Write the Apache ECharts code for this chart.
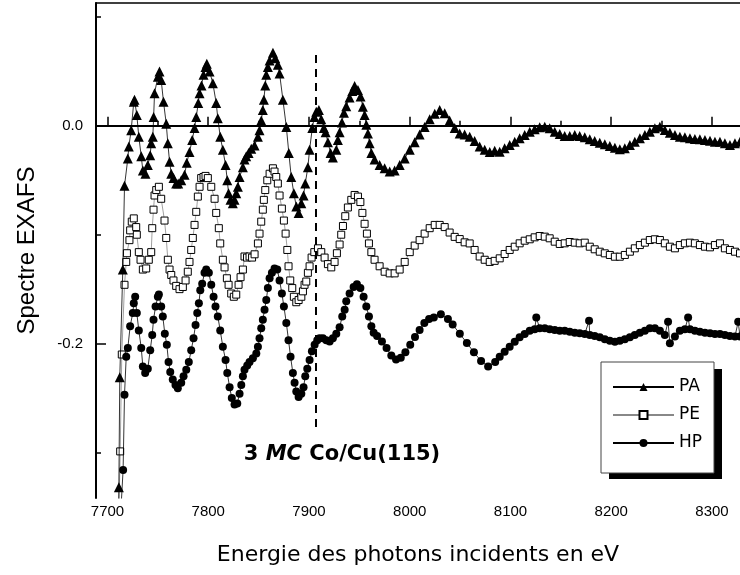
<!DOCTYPE html>
<html><head><meta charset="utf-8">
<script src="https://cdn.jsdelivr.net/npm/echarts@6/dist/echarts.min.js"></script>
<style>html,body{margin:0;padding:0;background:#fff}#c{width:740px;height:575px}</style>
</head><body><div id="c"></div>
<script>
// ---- data (energy eV, EXAFS value) ----
const PA = [
[7710.5,-0.39],[7711.3,-0.332],[7712.2,-0.231],[7715.2,-0.132],[7716.9,-0.055],[7720.2,-0.030],[7721.2,-0.019],[7723.5,-0.004],
[7726.1,0.022],[7726.8,0.024],[7729.1,0.010],[7731.1,-0.010],[7733.5,-0.028],[7735.1,-0.041],[7737.7,-0.044],[7740.0,-0.036],
[7742.4,-0.027],[7743.4,-0.016],[7745.0,-0.010],[7745.8,0.008],[7746.7,0.030],[7750.0,0.045],[7751.6,0.050],[7753.3,0.042],
[7755.6,0.022],[7758.3,0.002],[7759.9,-0.016],[7761.6,-0.033],[7763.3,-0.044],[7765.5,-0.048],[7768.2,-0.053],[7770.2,-0.053],
[7773.2,-0.050],[7776.5,-0.045],[7778.7,-0.034],[7781.4,-0.024],[7784.1,-0.013],[7786.4,-0.002],[7788.1,0.008],[7790.1,0.021],
[7791.4,0.030],[7793.3,0.037],[7795.3,0.047],[7797.3,0.054],[7798.6,0.057],[7801.3,0.050],[7804.6,0.039],[7807.9,0.021],
[7809.5,0.007],[7811.9,-0.010],[7814.5,-0.022],[7817.2,-0.036],[7818.9,-0.050],[7820.2,-0.062],[7822.1,-0.068],[7824.4,-0.071],
[7826.1,-0.068],[7827.8,-0.062],[7829.4,-0.056],[7831.1,-0.047],[7834.4,-0.038],[7836.0,-0.031],[7837.7,-0.028],[7840.0,-0.025],
[7842.7,-0.021],[7846.0,-0.018],[7849.3,-0.010],[7850.9,-0.004],[7852.6,0.005],[7854.2,0.0145],[7855.2,0.024],[7856.6,0.037],
[7857.6,0.047],[7859.2,0.054],[7860.9,0.060],[7864.2,0.067],[7866.5,0.062],[7869.1,0.056],[7870.8,0.048],[7874.1,0.024],
[7877.5,-0.001],[7880.0,-0.025],[7882.4,-0.047],[7885.0,-0.062],[7887.4,-0.074],[7889.7,-0.080],[7892.4,-0.071],[7894.6,-0.064],
[7896.3,-0.053],[7898.9,-0.038],[7900.6,-0.022],[7903.3,-0.002],[7905.3,0.008],[7907.2,0.013],[7909.8,0.0145],[7912.2,0.006],
[7914.8,-0.002],[7916.5,-0.006],[7918.8,-0.015],[7921.4,-0.025],[7923.7,-0.029],[7927.1,-0.022],[7928.7,-0.013],[7930.4,-0.006],
[7932.7,0.003],[7934.7,0.012],[7937.0,0.018],[7940.3,0.026],[7943.0,0.032],[7945.3,0.0365],[7948.6,0.033],[7951.2,0.027],
[7953.5,0.0175],[7955.2,0.010],[7956.9,0.001],[7958.5,-0.007],[7960.2,-0.016],[7961.9,-0.025],[7965.1,-0.031],[7970.1,-0.036],
[7975.1,-0.039],[7980.1,-0.042],[7985.0,-0.041],[7990.0,-0.036],[7995.0,-0.030],[8000.0,-0.022],[8004.9,-0.015],[8009.8,-0.008],
[8014.8,-0.001],[8019.8,0.006],[8024.8,0.011],[8029.7,0.0145],[8034.7,0.0115],[8039.6,0.005],[8044.6,-0.002],[8049.6,-0.007],
[8054.5,-0.008],[8059.5,-0.010],[8064.4,-0.014],[8069.4,-0.019],[8074.4,-0.022],[8079.4,-0.024],[8084.3,-0.023],
[8089.3,-0.0238],[8094.2,-0.0207],[8099.2,-0.0176],[8104.2,-0.0146],[8109.1,-0.0115],[8114.1,-0.0084],[8119.1,-0.0054],
[8124.0,-0.0032],[8129.0,-0.0014],[8134.0,-0.0008],[8138.9,-0.0023],[8143.9,-0.0054],[8148.9,-0.0075],[8153.8,-0.0094],
[8158.8,-0.0094],[8163.8,-0.0084],[8168.7,-0.0094],[8173.7,-0.0106],[8178.7,-0.0124],[8183.6,-0.0140],[8188.6,-0.0155],
[8193.6,-0.0170],[8198.6,-0.0185],[8203.6,-0.0201],[8208.5,-0.0216],[8213.5,-0.0207],[8218.5,-0.0176],[8223.4,-0.0146],
[8228.4,-0.0115],[8233.4,-0.0084],[8238.3,-0.0054],[8243.3,-0.0023],[8248.3,-0.0008],[8253.2,-0.0039],[8258.2,-0.0063],
[8263.2,-0.0084],[8268.1,-0.0100],[8273.1,-0.0106],[8278.1,-0.0115],[8283.0,-0.0121],[8288.0,-0.0124],[8293.0,-0.0130],
[8298.0,-0.0137],[8302.9,-0.0146],[8307.9,-0.0146],[8312.8,-0.0161],[8317.8,-0.0176],[8322.8,-0.0161],[8327.8,-0.0146]
];
const PE = [
[7710.5,-0.39],[7712.6,-0.299],[7714.2,-0.210],[7716.9,-0.146],[7718.6,-0.125],[7719.3,-0.117],[7721.8,-0.105],[7722.5,-0.096],
[7724.1,-0.088],[7726.1,-0.085],[7728.5,-0.093],[7729.1,-0.100],[7731.1,-0.116],[7732.8,-0.123],[7735.1,-0.132],[7738.4,-0.131],
[7741.0,-0.123],[7743.4,-0.116],[7744.4,-0.094],[7745.7,-0.077],[7746.7,-0.064],[7748.4,-0.059],[7751.0,-0.056],[7753.3,-0.067],
[7756.6,-0.087],[7758.3,-0.103],[7759.9,-0.123],[7761.6,-0.132],[7763.3,-0.137],[7765.5,-0.142],[7768.2,-0.147],[7771.5,-0.150],
[7774.8,-0.148],[7777.5,-0.142],[7779.7,-0.134],[7781.4,-0.125],[7783.1,-0.114],[7784.7,-0.103],[7786.4,-0.091],[7788.1,-0.079],
[7789.7,-0.065],[7791.4,-0.056],[7793.0,-0.048],[7795.3,-0.047],[7797.3,-0.046],[7799.6,-0.048],[7803.0,-0.056],[7806.3,-0.067],
[7807.9,-0.080],[7810.5,-0.094],[7811.9,-0.108],[7814.5,-0.123],[7816.2,-0.130],[7818.5,-0.140],[7820.2,-0.146],[7822.8,-0.154],
[7825.4,-0.157],[7827.8,-0.155],[7830.1,-0.146],[7832.1,-0.139],[7834.4,-0.132],[7836.0,-0.120],[7838.5,-0.121],[7841.0,-0.120],
[7843.5,-0.121],[7846.0,-0.118],[7849.3,-0.108],[7850.9,-0.099],[7852.6,-0.088],[7854.2,-0.077],[7855.2,-0.068],[7856.6,-0.059],
[7858.6,-0.050],[7860.9,-0.044],[7864.2,-0.039],[7865.8,-0.042],[7867.5,-0.047],[7869.1,-0.053],[7870.8,-0.064],[7873.1,-0.076],
[7875.1,-0.087],[7876.8,-0.099],[7878.5,-0.114],[7879.7,-0.129],[7881.4,-0.142],[7883.4,-0.149],[7885.0,-0.157],[7887.4,-0.162],
[7889.7,-0.160],[7892.4,-0.157],[7894.0,-0.152],[7895.6,-0.146],[7897.3,-0.143],[7898.9,-0.135],[7900.6,-0.129],[7902.6,-0.121],
[7905.3,-0.116],[7908.9,-0.1125],[7912.2,-0.116],[7915.5,-0.121],[7918.8,-0.127],[7922.1,-0.130],[7925.4,-0.125],[7927.7,-0.117],
[7930.4,-0.109],[7932.0,-0.100],[7933.7,-0.092],[7936.0,-0.083],[7938.6,-0.075],[7942.0,-0.068],[7945.3,-0.0635],[7948.6,-0.065],
[7951.0,-0.070],[7953.0,-0.080],[7955.2,-0.090],[7957.5,-0.099],[7959.5,-0.108],[7961.9,-0.116],[7965.1,-0.123],[7970.1,-0.129],
[7975.1,-0.134],[7980.1,-0.1355],[7985.0,-0.1355],[7990.0,-0.132],[7995.0,-0.125],[8000.0,-0.116],[8004.9,-0.110],[8009.8,-0.105],
[8014.8,-0.099],[8019.8,-0.094],[8024.8,-0.091],[8029.7,-0.091],[8034.7,-0.093],[8039.6,-0.098],[8044.6,-0.102],[8049.6,-0.104],
[8054.5,-0.107],[8059.5,-0.108],[8064.4,-0.114],[8069.4,-0.120],[8074.4,-0.123],[8079.4,-0.125],[8084.3,-0.124],
[8089.3,-0.1217],[8094.2,-0.1177],[8099.2,-0.1140],[8104.2,-0.1110],[8109.1,-0.1079],[8114.1,-0.1055],[8119.1,-0.1042],
[8124.0,-0.1024],[8129.0,-0.1012],[8134.0,-0.1018],[8138.9,-0.1033],[8143.9,-0.1064],[8148.9,-0.1085],[8153.8,-0.1079],
[8158.8,-0.1067],[8163.8,-0.1073],[8168.7,-0.1079],[8173.7,-0.1073],[8178.7,-0.1110],[8183.6,-0.1134],[8188.6,-0.1156],
[8193.6,-0.1171],[8198.6,-0.1186],[8203.6,-0.1202],[8208.5,-0.1202],[8213.5,-0.1186],[8218.5,-0.1156],[8223.4,-0.1125],
[8228.4,-0.1095],[8233.4,-0.1073],[8238.3,-0.1049],[8243.3,-0.1042],[8248.3,-0.1049],[8253.2,-0.1079],[8258.2,-0.1110],
[8263.2,-0.1125],[8268.1,-0.1095],[8273.1,-0.1079],[8278.1,-0.1073],[8283.0,-0.1079],[8288.0,-0.1095],[8293.0,-0.1110],
[8298.0,-0.1116],[8302.9,-0.1095],[8307.9,-0.1079],[8312.8,-0.1125],[8317.8,-0.1140],[8322.8,-0.1156],[8327.8,-0.1171]
];
const HP = [
[7710.5,-0.40],[7715.5,-0.316],[7716.9,-0.247],[7718.6,-0.212],[7720.2,-0.204],[7722.5,-0.184],[7725.1,-0.172],[7726.1,-0.163],
[7727.5,-0.157],[7729.1,-0.172],[7731.1,-0.188],[7733.5,-0.204],[7735.1,-0.221],[7737.4,-0.227],[7740.0,-0.223],[7742.4,-0.206],
[7744.4,-0.192],[7745.7,-0.178],[7747.7,-0.166],[7750.0,-0.157],[7751.0,-0.155],[7753.3,-0.166],[7754.9,-0.175],[7756.9,-0.191],
[7758.9,-0.201],[7760.6,-0.217],[7762.3,-0.226],[7764.8,-0.233],[7767.5,-0.238],[7769.8,-0.241],[7773.2,-0.236],[7775.5,-0.230],
[7778.2,-0.224],[7780.7,-0.217],[7783.1,-0.206],[7785.4,-0.195],[7787.4,-0.183],[7789.1,-0.172],[7790.7,-0.163],[7792.1,-0.151],
[7794.0,-0.145],[7796.3,-0.135],[7798.0,-0.132],[7800.6,-0.135],[7803.0,-0.146],[7805.3,-0.157],[7807.2,-0.166],[7809.5,-0.175],
[7811.9,-0.188],[7814.5,-0.203],[7817.2,-0.215],[7818.9,-0.227],[7821.2,-0.240],[7823.4,-0.250],[7826.1,-0.256],[7828.8,-0.255],
[7831.1,-0.246],[7832.8,-0.238],[7834.4,-0.230],[7836.0,-0.224],[7838.7,-0.220],[7841.0,-0.217],[7844.3,-0.2135],[7847.7,-0.209],
[7849.3,-0.203],[7850.9,-0.195],[7852.6,-0.186],[7854.2,-0.178],[7855.9,-0.169],[7857.6,-0.160],[7859.2,-0.149],[7860.9,-0.140],
[7863.2,-0.135],[7865.8,-0.131],[7868.5,-0.132],[7870.8,-0.142],[7873.1,-0.154],[7875.1,-0.166],[7877.5,-0.181],[7879.7,-0.197],
[7881.7,-0.212],[7884.0,-0.227],[7885.7,-0.236],[7887.4,-0.244],[7889.7,-0.249],[7892.4,-0.246],[7894.6,-0.240],[7896.3,-0.230],
[7898.3,-0.223],[7900.6,-0.215],[7902.9,-0.207],[7905.6,-0.201],[7908.2,-0.197],[7910.5,-0.195],[7913.8,-0.195],[7917.2,-0.197],
[7920.5,-0.198],[7923.7,-0.195],[7927.1,-0.191],[7930.4,-0.185],[7933.0,-0.175],[7935.4,-0.169],[7937.0,-0.161],[7940.3,-0.154],
[7944.3,-0.148],[7947.6,-0.1455],[7951.0,-0.149],[7954.2,-0.157],[7956.9,-0.166],[7959.5,-0.175],[7961.9,-0.184],[7964.2,-0.190],
[7967.6,-0.193],[7972.4,-0.198],[7977.0,-0.204],[7981.7,-0.211],[7986.4,-0.2145],[7991.1,-0.213],[7995.7,-0.208],[8000.5,-0.201],
[8005.2,-0.194],[8009.8,-0.1875],[8014.5,-0.181],[8019.2,-0.1774],[8023.9,-0.176],[8030.9,-0.173],[8037.9,-0.1774],[8042.6,-0.1825],
[8049.7,-0.191],[8056.7,-0.1994],[8063.7,-0.208],[8070.8,-0.216],[8077.8,-0.221],[8084.8,-0.217],
[8089.3,-0.2120],[8094.2,-0.2074],[8099.2,-0.2028],[8104.2,-0.1983],[8109.1,-0.1942],[8114.1,-0.1912],[8119.1,-0.1881],
[8124.0,-0.1869],[8125.6,-0.176],[8129.0,-0.1860],[8134.0,-0.1860],[8138.9,-0.1869],[8143.9,-0.1875],[8148.9,-0.1881],
[8153.8,-0.1881],[8158.8,-0.1891],[8163.8,-0.1900],[8168.7,-0.1906],[8173.7,-0.1912],[8178.0,-0.179],[8178.7,-0.1921],
[8183.6,-0.1930],[8188.6,-0.1942],[8193.6,-0.1961],[8198.6,-0.1973],[8203.6,-0.1983],[8208.5,-0.1973],[8213.5,-0.1961],
[8218.5,-0.1942],[8223.4,-0.1921],[8228.4,-0.1900],[8233.4,-0.1881],[8238.3,-0.1860],[8243.3,-0.1860],[8248.3,-0.1881],
[8253.2,-0.1921],[8256.4,-0.180],[8258.2,-0.1997],[8263.2,-0.1934],[8268.1,-0.1881],[8273.1,-0.1869],[8276.3,-0.176],
[8278.1,-0.1869],[8283.0,-0.1881],[8288.0,-0.1891],[8293.0,-0.1900],[8298.0,-0.1906],[8302.9,-0.1912],[8307.9,-0.1912],
[8312.8,-0.1921],[8317.8,-0.1930],[8322.8,-0.1934],[8326.0,-0.180],[8327.8,-0.1934]
];
const seriesNames = ['PA', 'PE', 'HP'];
const xMajorTicks = [7700, 7800, 7900, 8000, 8100, 8200, 8300];
const xMinorTicks = [7750, 7850, 7950, 8050, 8150, 8250];
const yMajorTicks = [0, -0.2];
const yMinorTicks = [0.1, -0.1, -0.3];
const xRange = [7688.6, 8327.8];
const yRange = [-0.3418, 0.1128];
const edgeEnergy = 7907;
const edgeSpan = [0.065, -0.277];
const xTitle = 'Energie des photons incidents en eV';
const yTitle = 'Spectre EXAFS';
const sampleLabel = ['3', 'MC', 'Co/Cu(115)'];

const chart = echarts.init(document.getElementById('c'), null, {renderer: 'canvas'});
const black = '#000';
const labelFont = 'Liberation Sans, Arial, sans-serif';
const comicFont = 'DejaVu Sans, sans-serif';

const option = {
  animation: false,
  backgroundColor: '#fff',
  grid: {left: 96, right: 0, top: 3, bottom: 77},
  legend: {
    orient: 'vertical', left: 612, top: 378, padding: 0, z: 10,
    itemWidth: 61, itemHeight: 10, itemGap: 10,
    textStyle: {fontFamily: comicFont, fontSize: 17, color: black, lineHeight: 18},
    data: seriesNames
  },
  xAxis: [
    {type: 'value', position: 'bottom', min: xRange[0], max: xRange[1],
     axisLine: {lineStyle: {color: black, width: 2}},
     axisTick: {inside: true, length: 9, customValues: xMajorTicks, lineStyle: {color: black, width: 1.5}},
     axisLabel: {customValues: xMajorTicks, margin: 6, fontSize: 15, fontFamily: labelFont, color: black,
                 formatter: v => String(Math.round(v))},
     splitLine: {show: false},
     name: xTitle, nameLocation: 'middle', nameGap: 46,
     nameTextStyle: {fontFamily: comicFont, fontSize: 22, color: black}},
    {type: 'value', position: 'bottom', min: xRange[0], max: xRange[1],
     axisLine: {show: false},
     axisTick: {inside: true, length: 5, customValues: xMinorTicks, lineStyle: {color: black, width: 1.5}},
     axisLabel: {show: false}, splitLine: {show: false}},
    {type: 'value', position: 'top', min: xRange[0], max: xRange[1],
     axisLine: {lineStyle: {color: black, width: 1.5}},
     axisTick: {show: false}, axisLabel: {show: false}, splitLine: {show: false}}
  ],
  yAxis: [
    {type: 'value', position: 'left', min: yRange[0], max: yRange[1],
     axisLine: {show: true, lineStyle: {color: black, width: 2}},
     axisTick: {show: true, inside: true, length: 10, customValues: yMajorTicks, lineStyle: {color: black, width: 1.5}},
     axisLabel: {customValues: yMajorTicks, margin: 13, fontSize: 15, fontFamily: labelFont, color: black,
                 formatter: v => v.toFixed(1)},
     splitLine: {show: false},
     name: yTitle, nameLocation: 'middle', nameGap: 57,
     nameTextStyle: {fontFamily: labelFont, fontSize: 24, color: black}},
    {type: 'value', position: 'left', min: yRange[0], max: yRange[1],
     axisLine: {show: false},
     axisTick: {show: true, inside: true, length: 5, customValues: yMinorTicks, lineStyle: {color: black, width: 1.5}},
     axisLabel: {show: false}, splitLine: {show: false}}
  ],
  series: [
    {name: seriesNames[0], type: 'line', data: PA, xAxisIndex: 0, yAxisIndex: 0,
     symbol: 'triangle', symbolSize: 10, showAllSymbol: true, clip: true, z: 3,
     itemStyle: {color: black}, lineStyle: {color: black, width: 0.8},
     markLine: {silent: true, symbol: 'none', label: {show: false},
       lineStyle: {color: black, width: 2, type: [8, 6]},
       data: [[{coord: [edgeEnergy, edgeSpan[0]]}, {coord: [edgeEnergy, edgeSpan[1]]}]]}},
    {name: seriesNames[1], type: 'line', data: PE, xAxisIndex: 0, yAxisIndex: 0,
     symbol: 'rect', symbolSize: 7, showAllSymbol: true, clip: true, z: 2,
     itemStyle: {color: '#fff', borderColor: black, borderWidth: 1}, lineStyle: {color: '#888', width: 0.8}},
    {name: seriesNames[2], type: 'line', data: HP, xAxisIndex: 0, yAxisIndex: 0,
     symbol: 'circle', symbolSize: 8, showAllSymbol: true, clip: true, z: 3,
     itemStyle: {color: black}, lineStyle: {color: black, width: 0.8}}
  ],
  graphic: [
    {type: 'rect', z: 8, shape: {x: 609, y: 369, width: 113, height: 110}, style: {fill: black}},
    {type: 'rect', z: 9, shape: {x: 601, y: 362, width: 113, height: 111}, style: {fill: '#fff', stroke: '#444', lineWidth: 1}},
    {type: 'text', z: 9, x: 342, y: 455,
     style: {text: '{a|' + sampleLabel[0] + ' }{b|' + sampleLabel[1] + '}{a| ' + sampleLabel[2] + '}',
       align: 'center', verticalAlign: 'middle',
       rich: {a: {fontFamily: comicFont, fontSize: 21, fontWeight: 'bold', fill: black},
              b: {fontFamily: comicFont, fontSize: 21, fontWeight: 'bold', fontStyle: 'italic', fill: black}}}}
  ]
};
chart.setOption(option);
</script>
</body></html>
